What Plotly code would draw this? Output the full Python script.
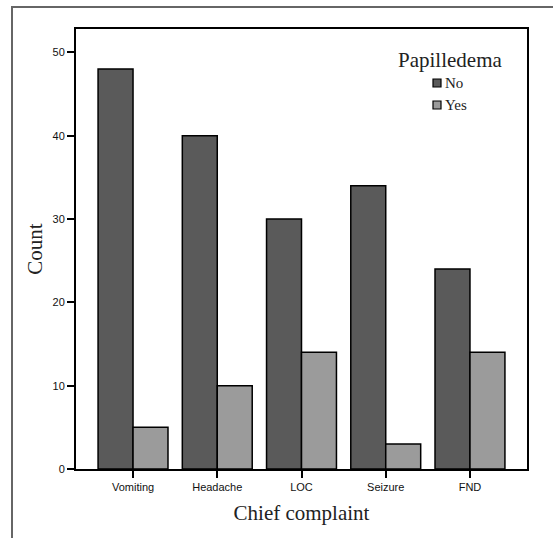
import plotly.graph_objects as go

categories = ["Vomiting", "Headache", "LOC", "Seizure", "FND"]
no_counts = [48, 40, 30, 34, 24]
yes_counts = [5, 10, 14, 3, 14]
y_ticks = [0, 10, 20, 30, 40, 50]
legend_title = "Papilledema"
series_names = ["No", "Yes"]
series_colors = ["#5a5a5a", "#9b9b9b"]

W, H = 553, 538
L, R, T, B = 76, 26, 29, 69
PW, PH = W - L - R, H - T - B


def px(x):
    return (x - L) / PW


def py(y):
    return (H - B - y) / PH


fig = go.Figure()
for name, vals, col in zip(series_names, [no_counts, yes_counts], series_colors):
    fig.add_trace(go.Bar(x=categories, y=vals, name=name,
                         marker=dict(color=col, line=dict(color="black", width=1.5))))

shapes = [dict(type="rect", xref="paper", yref="paper",
               x0=px(12), x1=px(600), y0=py(600), y1=py(7),
               line=dict(color="#666", width=2), fillcolor="rgba(0,0,0,0)",
               layer="below")]
annotations = [dict(text=legend_title, xref="paper", yref="paper",
                    x=px(450), y=py(60), xanchor="center", yanchor="middle",
                    showarrow=False,
                    font=dict(family="Liberation Serif", size=21, color="#222"))]
row_y = [83, 105]
for name, col, ry in zip(series_names, series_colors, row_y):
    shapes.append(dict(type="rect", xref="paper", yref="paper",
                       x0=px(433), x1=px(441), y0=py(ry + 4), y1=py(ry - 4),
                       line=dict(color="black", width=1.2), fillcolor=col))
    annotations.append(dict(text=name, xref="paper", yref="paper",
                            x=px(443), y=py(ry), xanchor="left", yanchor="middle",
                            showarrow=False,
                            font=dict(family="Liberation Serif", size=15, color="#222")))

fig.update_layout(
    width=W, height=H,
    margin=dict(l=L, r=R, t=T, b=B),
    paper_bgcolor="white", plot_bgcolor="white",
    barmode="group", bargap=0.17, bargroupgap=0,
    showlegend=False,
    xaxis=dict(
        range=[-0.677, 4.677],
        showline=True, linecolor="black", linewidth=2, mirror=True,
        ticks="outside", ticklen=7, tickcolor="black", tickwidth=1.5,
        tickfont=dict(family="Liberation Sans", size=11, color="#111"),
        title=dict(text="Chief complaint", standoff=13,
                   font=dict(family="Liberation Serif", size=21, color="#222")),
        showgrid=False,
    ),
    yaxis=dict(
        range=[0, 52.8],
        tickvals=y_ticks,
        showline=True, linecolor="black", linewidth=2, mirror=True,
        ticks="outside", ticklen=7, tickcolor="black", tickwidth=1.5,
        tickfont=dict(family="Liberation Sans", size=11, color="#111"),
        title=dict(text="Count", standoff=4,
                   font=dict(family="Liberation Serif", size=21, color="#222")),
        showgrid=False, zeroline=False,
    ),
    shapes=shapes,
    annotations=annotations,
)

fig.write_html("out.html", config={"displayModeBar": False},
               post_script="document.body.style.margin='0';")
